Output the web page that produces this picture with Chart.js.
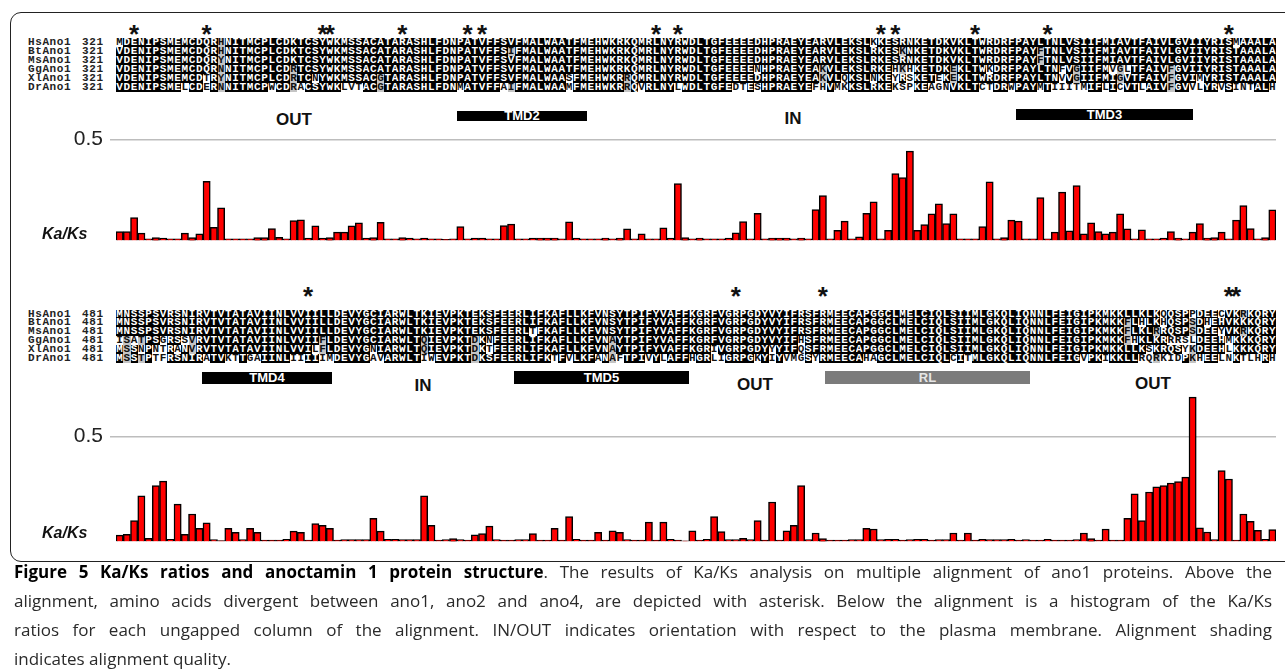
<!DOCTYPE html>
<html><head><meta charset="utf-8">
<script src="https://cdn.jsdelivr.net/npm/chart.js@4.4.1/dist/chart.umd.min.js"></script>
<style>
html,body{margin:0;padding:0;background:#fff}
body{width:1285px;height:669px;overflow:hidden;position:relative;font-family:'Liberation Sans',Arial,sans-serif;color:#111}
.row{position:absolute;left:116px;height:9px;display:flex}
.row span{flex:none;width:7.25px;height:9px;text-align:center;font:bold 11px/9px 'Liberation Mono',monospace;overflow:hidden}
.nm{position:absolute;font:bold 11px/9px 'Liberation Mono',monospace;letter-spacing:0.6px;color:#222;white-space:pre}
.star{position:absolute;font:bold 26px/26px 'Liberation Sans',Arial,sans-serif;width:16px;margin-left:-8px;text-align:center;height:26px}
.lab{position:absolute;font:bold 17px/17px 'Liberation Sans',Arial,sans-serif;color:#111;transform:translateX(-50%)}
.dom{position:absolute;background:#000;color:#fff;font:bold 13px/13px 'Liberation Sans',Arial,sans-serif;display:flex;align-items:center;justify-content:center}
.kaks{position:absolute;left:42px;font:italic bold 16px/16px 'Liberation Sans',Arial,sans-serif;color:#111}
canvas{position:absolute;left:0}
.cap{position:absolute;left:14px;width:1258px;font:17px/23px 'Open Sans',sans-serif;color:#2a2a2a;text-align:justify;text-align-last:justify;white-space:nowrap}
.cap.last{text-align-last:left}
.cap b{color:#000;font-weight:700}
#frame{position:absolute;left:10px;top:12px;width:1300px;height:548px;border:1.5px solid #222;border-radius:11px}
</style>
</head><body>
<div id="frame"></div>
<div id="align"></div>
<canvas id="topChart" width="1285" height="150" style="top:110px"></canvas>
<canvas id="botChart" width="1285" height="190" style="top:371px"></canvas>
<div class="kaks" style="top:226px">Ka/Ks</div>
<div class="kaks" style="top:525px">Ka/Ks</div>
<div class="cap" style="top:560px"><b>Figure 5 Ka/Ks ratios and anoctamin 1 protein structure</b>. The results of Ka/Ks analysis on multiple alignment of ano1 proteins. Above the</div>
<div class="cap" style="top:589px">alignment, amino acids divergent between ano1, ano2 and ano4, are depicted with asterisk. Below the alignment is a histogram of the Ka/Ks</div>
<div class="cap" style="top:618px">ratios for each ungapped column of the alignment. IN/OUT indicates orientation with respect to the plasma membrane. Alignment shading</div>
<div class="cap last" style="top:647px">indicates alignment quality.</div>
<script>
// ---------- data ----------
const speciesNames = ['HsAno1','BtAno1','MsAno1','GgAno1','XlAno1','DrAno1'];
const topStart = 321;
const bottomStart = 481;
const topSeqs = [
 'MDENIPSMEMCDQRHNITMCPLCDKTCSYWKMSSACATARAS'+'HLFDNPATVFFSVFMALWAATFMEHWKRKQMRLNYRWDLTGFEEEEDHPRAEYEARVLE'+'KSLKKESRNKETDKVKLTWRDRFPAYLTNLVSIIFMIAVTFAIVLGVIIYRISMAAALA',
 'VDENIPSMEMCDQRHNITMCPLCDKTCSYWKMSSACATARAS'+'HLFDNPATVFFSIFMALWAATFMEHWKRKQMRLNYRWDLTGFEEEEDHPRAEYEARVLE'+'KSLRKESKNKETDKVKLTWRDRFPAYFTNLVSIIFMIAVTFAIVLGVIIYRISTAAALA',
 'VDENIPSMEMCDQRYNITMCPLCDKTCSYWKMSSACATARAS'+'HLFDNPATVFFSVFMALWAATFMEHWKRKQMRLNYRWDLTGFEEEEDHPRAEYEARVLE'+'KSLRKESRNKETDKVKLTWRDRFPAYFTNLVSIIFMIAVTFAIVLGVIIYRISTAAALA',
 'VDENIPSMEMCDQRNNITMCPLCDRTCSYWKMSSACATARAS'+'HLFDNPATVFFSVFMALWAATFMEHWKRKQMRLNYRWDLTGFEEEENHPRAEYEAKVLE'+'KSLRKEHKHKETDKEKLTWKDRFPAYLTNFVGIIFMVGLTFAIVFGVIIYRISTAAALA',
 'VDENIPSMEMCDTRYNITMCPLCDRTCNYWKMSSACGTARAS'+'HLFDNPATVFFSVFMALWAASFMEHWKRRQMRLNYRWDLTGFEEEEDHPRAEYEAKVLQ'+'KSLNKEYRSKETEKEKLTWRDRFPAYLTNVVGIIFMIGVTFAIVFGVIMYRISTAAALA',
 'VDENIPSMELCDERNNITMCPWCDRACSYWKLVTACGTARAS'+'HLFDNMATVFFAIFMALWAAMFMEHWKRRQVRLNYLWDLTGFEDTESHPRAEYEFHVMK'+'KSLRKEKSPKEAGNVKLTCTDRWPAYMTIIITMIFLICVTLAIVFGVVLYRVSINTALH'
];
const bottomSeqs = [
 'MNSSPSVRSNIRVTVTATAVIINLVVIILLDEVYGCIARWLT'+'KIEVPKTEKSFEERLIFKAFLLKFVNSYTPIFYVAFFKGRFVGRPGDYVYIFRSFRMEE'+'CAPGGCLMELCIQLSIIMLGKQLIQNNLFEIGIPKMKKLLKLKQQSPPDEECVKRKQRY',
 'MNSSPSVRSNIRVTVTATAVIINLVVIILLDEVYGCIARWLT'+'KIEVPKTEKSFEERLIFKAFLLKFVNSYTPIFYVAFFKGRFVGRPGDYVYIFRSFRMEE'+'CAPGGCLMELCIQLSIIMLGKQLIQNNLFEIGIPKMKKFLHLKHQSPSDHEHVKKKQRY',
 'MNSSPSVRSNIRVTVTATAVIINLVVIILLDEVYGCIARWLT'+'KIEVPKTEKSFEERLTFKAFLLKFVNSYTPIFYVAFFKGRFVGRPGDYVYIFRSFRMEE'+'CAPGGCLMELCIQLSIIMLGKQLIQNNLFEIGIPKMKKFLKLRRQSPSDEEYVKRKQRY',
 'ISATPSGRSSVRVTVTATAVIINLVVIIFLDEVYGCIARWLT'+'QIEVPKTDKNFEERLIFKAFLLKFVNAYTPIFYVAFFKGRFVGRPGDYVYIFHSFRMEE'+'CAPGGCLMELCIQLSIIMLGKQLIQNNLFEIGIPKMKKFHKLKRRRSLDEEHMKKKQRY',
 'MSSNPNTRANVRVTVTATAVIINLVVILFLDEVYGNIARWLT'+'QIEVPKTDKTFEERLIFKAFLLKFVNAYTPIFYVAFFKGRIVGRPGDYYYIFQSFRMEE'+'CAPGGCLMELCIQLSIIMLGKQLIQNNLFEIGIPKMKKLLKSKRQSYKDEEHLKKKQRY',
 'MSSTPTFRSNIRATVKTTGAIINLIIIIIMDEVYGAVARWLT'+'IWEVPKTDKSFEERLIFKTFVLKFANAFTPIVYLAFFHGRLIGRPGKYIYVMGSYRMEE'+'CAHAGCLMELCIQLCITMLGKQLIQNNLFEIGVPKIKKLLRQRKIDPKHEELNKTLHRH'
];
// asterisk columns (0-based within each 160-column block)
const topStars = [2,12,28,29,39,48,50,74,77,105,107,118,128,153];
const bottomStars = [26,85,97,153,154];
// Ka/Ks per alignment column
const topKaKs = [
 0.044,0.044,0.113,0.036,0.008,0.014,0.011,0.008,0.008,0.036,
 0.014,0.033,0.293,0.065,0.162,0.008,0.008,0.008,0.008,0.014,
 0.014,0.059,0.015,0.008,0.099,0.102,0.011,0.072,0.011,0.014,
 0.041,0.041,0.072,0.087,0.011,0.014,0.090,0.008,0.008,0.014,
 0.011,0.008,0.011,0.008,0.008,0.005,0.008,0.068,0.008,0.011,
 0.011,0.008,0.008,0.074,0.081,0.008,0.008,0.011,0.012,0.012,
 0.012,0.008,0.092,0.011,0.008,0.008,0.008,0.012,0.008,0.012,
 0.057,0.008,0.033,0.008,0.008,0.062,0.011,0.282,0.014,0.008,
 0.012,0.008,0.008,0.008,0.011,0.038,0.093,0.008,0.134,0.008,
 0.012,0.012,0.012,0.008,0.012,0.008,0.153,0.222,0.008,0.050,
 0.096,0.008,0.018,0.134,0.192,0.008,0.050,0.332,0.312,0.443,
 0.050,0.078,0.132,0.182,0.084,0.132,0.008,0.008,0.008,0.068,
 0.291,0.008,0.014,0.101,0.096,0.008,0.008,0.212,0.008,0.041,
 0.240,0.047,0.272,0.033,0.087,0.044,0.032,0.041,0.132,0.057,
 0.008,0.053,0.008,0.008,0.011,0.044,0.012,0.008,0.041,0.083,
 0.012,0.014,0.041,0.008,0.101,0.173,0.059,0.008,0.014,0.152
];
const bottomKaKs = [
 0.030,0.034,0.099,0.217,0.015,0.267,0.288,0.010,0.178,0.034,
 0.131,0.062,0.089,0.009,0.004,0.062,0.043,0.009,0.062,0.043,
 0.006,0.006,0.006,0.010,0.049,0.043,0.006,0.085,0.077,0.062,
 0.006,0.009,0.009,0.009,0.009,0.110,0.049,0.010,0.010,0.009,
 0.009,0.009,0.217,0.077,0.006,0.009,0.013,0.009,0.006,0.031,
 0.037,0.073,0.009,0.006,0.006,0.009,0.009,0.037,0.006,0.006,
 0.062,0.006,0.119,0.010,0.006,0.006,0.043,0.006,0.050,0.043,
 0.009,0.006,0.006,0.092,0.006,0.092,0.010,0.006,0.003,0.050,
 0.006,0.010,0.119,0.047,0.009,0.009,0.015,0.009,0.099,0.006,
 0.188,0.006,0.050,0.077,0.267,0.009,0.040,0.013,0.006,0.006,
 0.006,0.009,0.009,0.062,0.059,0.009,0.010,0.010,0.006,0.009,
 0.010,0.010,0.006,0.009,0.009,0.040,0.006,0.040,0.006,0.010,
 0.009,0.009,0.009,0.010,0.006,0.009,0.006,0.006,0.010,0.006,
 0.006,0.006,0.009,0.040,0.013,0.006,0.059,0.006,0.006,0.110,
 0.227,0.099,0.236,0.260,0.267,0.279,0.286,0.307,0.689,0.065,
 0.045,0.009,0.338,0.298,0.006,0.131,0.096,0.053,0.010,0.056
];
const yTickLabels = ['0.5'];
const yTickValues = [0.5];

// ---------- alignment (HTML) ----------
const COLW = 7.25, X0 = 116;
const align = document.getElementById('align');
function el(cls, style, text){const d=document.createElement('div');d.className=cls;Object.assign(d.style,style);if(text!==undefined)d.textContent=text;align.appendChild(d);return d;}
function drawBlock(seqs, startNum, top0, step, stars, starY){
  const n = seqs[0].length;
  const shade = seqs.map(()=>[]);
  for(let c=0;c<n;c++){
    const cnt={};seqs.forEach(s=>{cnt[s[c]]=(cnt[s[c]]||0)+1;});
    let m=null,mc=0;for(const k in cnt){if(cnt[k]>mc){mc=cnt[k];m=k;}}
    seqs.forEach((s,r)=>{const ch=s[c];
      if(mc>=3&&ch===m)shade[r][c]='b';else if(cnt[ch]>=2)shade[r][c]='g';else shade[r][c]='w';});
  }
  seqs.forEach((s,r)=>{
    const top = top0 + r*step;
    el('nm',{left:'28px',top:top+'px'},speciesNames[r]);
    el('nm',{left:'82px',top:top+'px'},String(startNum));
    const row = el('row',{top:top+'px'});
    for(let c=0;c<s.length;c++){
      const sp=document.createElement('span');sp.textContent=s[c];
      const t=shade[r][c];
      if(t==='b'){sp.style.background='#000';sp.style.color='#fff';}
      else if(t==='g'){sp.style.background='#c4c4c4';sp.style.color='#111';}
      else {sp.style.background='#fff';sp.style.color='#111';}
      row.appendChild(sp);
    }
  });
  stars.forEach(c=>el('star',{left:(X0+COLW*(c+0.5))+'px',top:(starY-7)+'px'},'*'));
}
drawBlock(topSeqs, topStart, 38, 9, topStars, 28);
drawBlock(bottomSeqs, bottomStart, 309.5, 8.9, bottomStars, 290);

// region labels and domain boxes
[['OUT',294,111],['IN',793,110],['IN',423,377],['OUT',755,376],['OUT',1153,375]].forEach(([t,x,y])=>el('lab',{left:x+'px',top:y+'px'},t));
[['TMD2',457,110.5,130,10.5],['TMD3',1016,108.5,177,11],['TMD4',202,372,130,11.5],['TMD5',514,371,175,13]].forEach(([t,x,y,w,h])=>el('dom',{left:x+'px',top:y+'px',width:w+'px',height:h+'px'},t));
el('dom',{left:'825px',top:'371px',width:'205px',height:'13px',background:'#7b7b7b',color:'#e6e6e6'},'RL');

// ---------- charts ----------
const cols = topKaKs.map((_, i) => i);
function makeChart(id, values, yMax, startNum){
  return new Chart(document.getElementById(id), {
    type:'bar',
    data:{labels: cols.map(i=>String(startNum+i)), datasets:[{data: values, backgroundColor:'#ff0000', borderColor:'#000', borderWidth:1.5, barPercentage:1, categoryPercentage:1}]},
    options:{
      responsive:false, animation:false,
      layout:{padding:{left:0,right:9,top:14,bottom:14}},
      plugins:{legend:{display:false}, tooltip:{enabled:false}},
      scales:{
        x:{display:false, offset:true},
        y:{min:0, max:yMax,
           afterBuildTicks: s => { s.ticks = yTickValues.map(v=>({value:v})); },
           afterFit: s => { s.width = 116; },
           grid:{color:'#bdbdbd', lineWidth:1.5, tickLength:6},
           border:{display:false},
           ticks:{font:{family:'Liberation Sans', size:21}, color:'#222', padding:7,
                  callback:(v)=> yTickLabels[yTickValues.indexOf(v)] ?? ''}}
      }
    }
  });
}
makeChart('topChart', topKaKs, 0.55, topStart);
makeChart('botChart', bottomKaKs, 0.72, bottomStart);
</script>
</body></html>
